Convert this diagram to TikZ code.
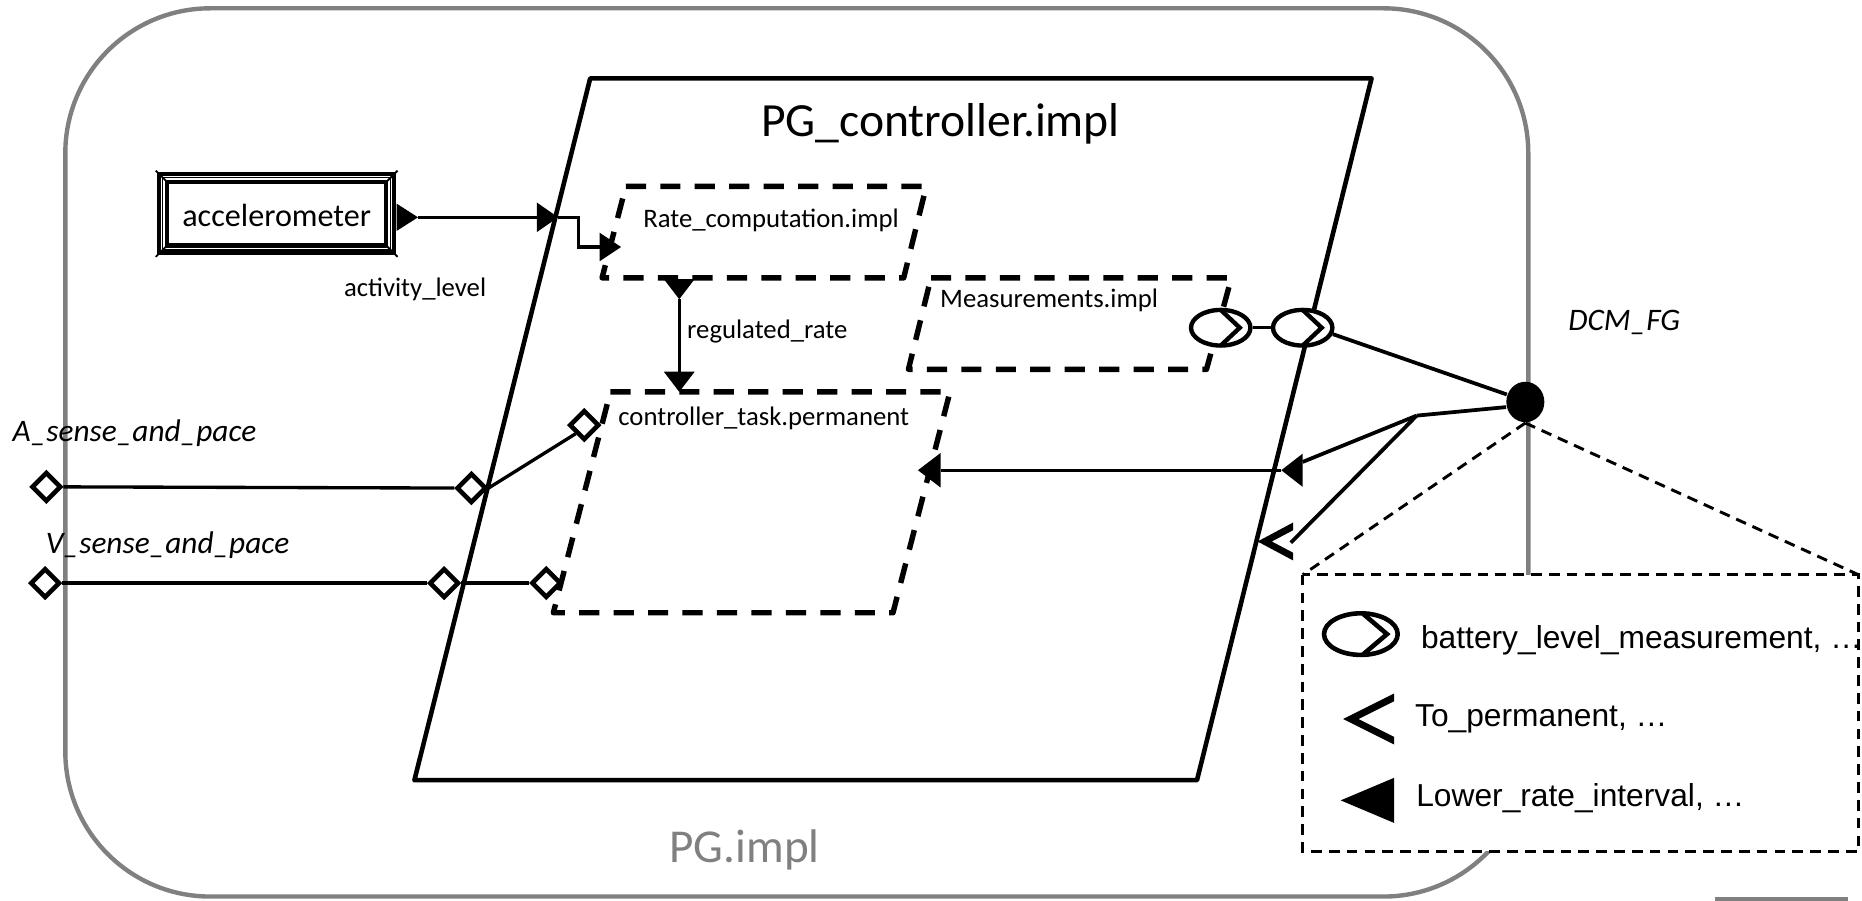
\documentclass[tikz,border=0pt]{standalone}
\usepackage{fontspec}
\setmainfont{Carlito}
\newfontfamily\legendfont{Liberation Sans}
\usetikzlibrary{shapes.geometric,calc}

\begin{document}
\begin{tikzpicture}[x=0.01cm, y=-0.01cm,
  pgframe/.style={draw=black!50, line width=1.05pt, rounded corners=1.22cm},
  component/.style={draw, line width=1.1pt, line join=round},
  subcomp/.style={draw, line width=1.3pt, dash pattern=on 0.17cm off 0.12cm, line join=round},
  conn/.style={line width=0.8pt},
  bus/.style={line width=0.9pt},
  legendline/.style={line width=0.7pt, dash pattern=on 0.09cm off 0.06cm},
  dport/.style={diamond, draw, fill=white, line width=1.1pt, minimum width=0.25cm, minimum height=0.25cm, inner sep=0pt},
  eport/.style={ellipse, draw, fill=white, line width=1.05pt, minimum width=0.5cm, minimum height=0.3cm, inner sep=0pt},
  accbox/.style={draw, line width=0.035cm, double distance=0.03cm, minimum width=1.91cm, minimum height=0.6cm, inner sep=0pt},
  title/.style={inner sep=0pt, anchor=base, font=\fontsize{11.4}{13}\selectfont},
  lbl/.style={inner sep=0pt, anchor=base west, font=\fontsize{6.4}{7.5}\selectfont},
  ilbl/.style={inner sep=0pt, anchor=base west, font=\fontsize{7.5}{9}\selectfont\itshape},
  lgtext/.style={inner sep=0pt, anchor=base west, font=\legendfont\fontsize{7.6}{9}\selectfont}
]
\useasboundingbox (0,0) rectangle (1568,758);

% ---------- outer system implementation ----------
\draw[pgframe] (55,7) rectangle (1287,755);
\draw[draw=black!50, line width=1pt] (1444,757.5) -- (1556,757.5);
\node[title, text=black!50, font=\fontsize{11.3}{13}\selectfont] (pgimpl) at (627,726) {PG.impl};

% ---------- PG_controller.impl process ----------
\draw[component] (497,66) -- (1155,66) -- (1008,657) -- (349,657) -- cycle;
\node[title] (pgc) at (792,115) {PG\_controller.impl};

% ---------- threads ----------
\draw[subcomp] (527,157) -- (780,157) -- (761,234) -- (507,234) -- cycle;
\draw[subcomp] (784,234) -- (1037,234) -- (1016,311) -- (765,311) -- cycle;
\draw[subcomp] (514,330) -- (800,330) -- (752,516) -- (466,516) -- cycle;
\node[lbl] (rc) at (541,192) {Rate\_computation.impl};
\node[lbl] (ms) at (791,259) {Measurements.impl};
\node[lbl] (ct) at (520,358) {controller\_task.permanent};

% ---------- accelerometer device ----------
\node[accbox] (acc) at (233,180) {};
\node[inner sep=0pt, anchor=base, font=\fontsize{7.7}{9}\selectfont] (acctext) at (233,190.5) {accelerometer};
\draw[line width=0.3pt] ($(acc.north west)+(1.2,1.2)$) rectangle ($(acc.south east)+(-1.2,-1.2)$);
\foreach \c/\sx/\sy in {north west/1/1, north east/-1/1, south west/1/-1, south east/-1/-1}
  \draw[line width=0.45pt] ($(acc.\c)+(-4.5*\sx,-4.5*\sy)$) -- ($(acc.\c)+(4.5*\sx,4.5*\sy)$);
\node[lbl] (actlvl) at (289,250) {activity\_level};

% ---------- event data ports and connection ----------
\coordinate (accP) at (352,183);
\coordinate (pgIn) at (470,183);
\coordinate (rcIn) at (523,208);
\fill (accP) -- ++(-18,-11.5) -- ++(0,23) -- cycle;
\fill (pgIn) -- ++(-18,-12.5) -- ++(0,25) -- cycle;
\fill (rcIn) -- ++(-18,-12) -- ++(0,24) -- cycle;
\coordinate (pgInB) at (452,183);
\coordinate (rcInB) at (505,208);
\draw[conn] (accP) -- (pgInB);
\draw[conn] (pgIn) -- (487,183) |- (rcInB);

% ---------- regulated_rate ----------
\coordinate (rcOut) at (572,252);
\coordinate (ctIn) at (572,330);
\fill (rcOut) -- ++(-13,-17) -- ++(26,0) -- cycle;
\fill (ctIn) -- ++(-13,-17) -- ++(26,0) -- cycle;
\coordinate (ctInB) at (572,313);
\draw[conn] (rcOut) -- (ctInB);
\node[lbl] (rr) at (578,285) {regulated\_rate};

% ---------- sense and pace data ports ----------
\node[dport] (aExt) at (39,410) {};
\node[dport] (aPg) at (397,411) {};
\node[dport] (aCt) at (492,358) {};
\node[dport] (vExt) at (38,491) {};
\node[dport] (vPg) at (374,491) {};
\node[dport] (vCt) at (460,491) {};
\draw[conn] (aExt.east) -- (aPg.west);
\draw[conn] (aPg.east) -- (aCt.south west);
\draw[conn] (vExt.east) -- (vPg.west);
\draw[conn] (vPg.east) -- (vCt.west);
\node[ilbl] (alab) at (10,372) {A\_sense\_and\_pace};
\node[ilbl] (vlab) at (38,466) {V\_sense\_and\_pace};

% ---------- measurement ports ----------
\node[eport] (m1) at (1028,276) {};
\node[eport] (m2) at (1097,276) {};
\foreach \m in {m1,m2}
  \draw[line width=1.05pt] ($(\m)+(0,-15)$) -- ($(\m)+(16,0)$) -- ($(\m)+(0,15)$);
\draw[conn] (m1.east) -- (m2.west);

% ---------- feature group DCM_FG ----------
\node[ellipse, fill=black, minimum width=0.32cm, minimum height=0.34cm, inner sep=0pt] (dcm) at (1284.5,338.5) {};
\node[ilbl] (dcmlab) at (1320,278) {DCM\_FG};
\coordinate (br) at (1193,350);
\draw[bus] (m2.-12) -- (dcm.158);
\draw[bus] (dcm.195) -- (br);

% Lower_rate_interval path
\coordinate (pgR) at (1079,396);
\coordinate (ctL) at (773,396);
\fill (pgR) -- ++(18,-14) -- ++(0,28) -- cycle;
\fill (ctL) -- ++(19,-14.5) -- ++(0,29) -- cycle;
\coordinate (pgRB) at (1097,389);
\coordinate (ctLB) at (792,396);
\draw[bus] (br) -- (pgRB);
\draw[conn] (pgR) -- (ctLB);

% To_permanent port
\coordinate (chv) at (1059,456);
\fill (chv) -- ++(30,-16) -- ++(0,6.5) -- ++(-18,9.5) -- ++(18,9.5) -- ++(0,6.5) -- cycle;
\coordinate (chvM) at (1087,457);
\draw[bus] (br) -- (chvM);

% ---------- legend ----------
\coordinate (lgTL) at (1097,484);
\coordinate (lgTR) at (1565,484);
\draw[legendline] (dcm.south) -- (lgTL);
\draw[legendline] (dcm.south) -- (lgTR);
\draw[legendline, fill=white] (lgTL) rectangle (1565,717);

\node[ellipse, draw, line width=1.1pt, minimum width=0.62cm, minimum height=0.35cm, inner sep=0pt] (lgE) at (1146,534) {};
\draw[line width=1.1pt] ($(lgE)+(2,-17)$) -- ($(lgE)+(22,0)$) -- ($(lgE)+(2,17)$);
\node[lgtext] (lg1) at (1196,546) {battery\_level\_measurement, …};

\coordinate (lgC) at (1131,605.5);
\fill (lgC) -- ++(43,-21.5) -- ++(0,6.5) -- ++(-30,15) -- ++(30,15) -- ++(0,6.5) -- cycle;
\node[lgtext] (lg2) at (1191,612) {To\_permanent, …};

\coordinate (lgT) at (1129,674);
\fill (lgT) -- ++(45,-19) -- ++(0,38) -- cycle;
\node[lgtext] (lg3) at (1192,679) {Lower\_rate\_interval, …};
\end{tikzpicture}
\end{document}
